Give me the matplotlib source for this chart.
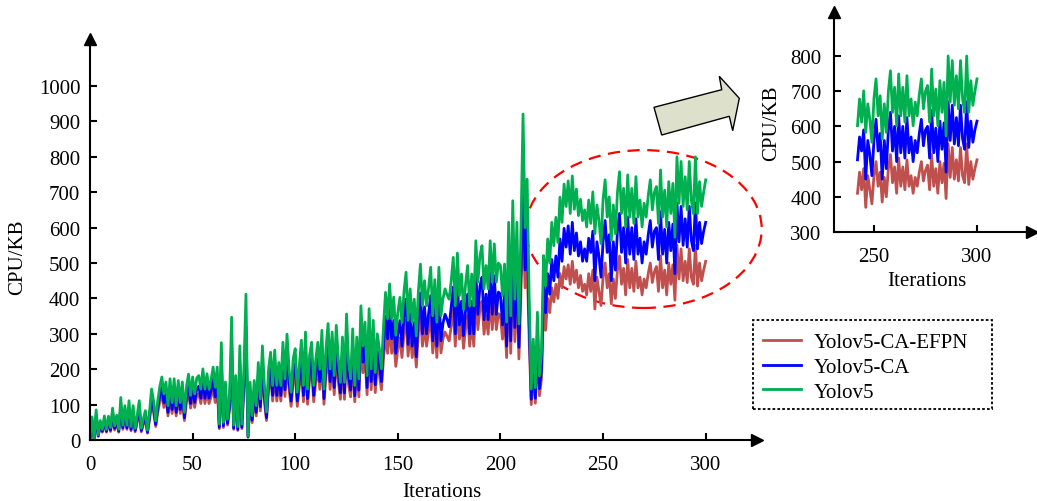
import matplotlib
matplotlib.use("Agg")
import matplotlib.pyplot as plt
from matplotlib.patches import Ellipse, Polygon, Rectangle

plt.rcParams['font.family'] = ['Liberation Serif', 'DejaVu Serif']

iterations = list(range(0, 301))

yolov5 = [
    5, 65, 3, 85, 15, 55, 30, 68, 30, 67,
    35, 90, 40, 70, 30, 120, 42, 97, 42, 111,
    38, 97, 33, 70, 111, 33, 60, 83, 28, 80,
    144, 110, 54, 110, 150, 178, 130, 164, 97, 173,
    106, 173, 97, 168, 106, 164, 78, 150, 186, 126,
    178, 130, 175, 182, 144, 201, 144, 187, 144, 170,
    206, 149, 206, 45, 275, 50, 164, 59, 120, 347,
    42, 182, 38, 266, 45, 200, 412, 11, 163, 69,
    168, 97, 219, 116, 266, 150, 79, 200, 248, 154,
    254, 154, 219, 154, 276, 173, 299, 200, 135, 230,
    258, 135, 210, 282, 154, 305, 144, 240, 276, 154,
    228, 276, 200, 310, 144, 258, 329, 201, 305, 182,
    324, 230, 163, 291, 163, 356, 220, 173, 314, 154,
    291, 173, 379, 266, 333, 182, 371, 201, 338, 191,
    300, 258, 201, 320, 417, 343, 441, 343, 404, 296,
    360, 403, 332, 420, 474, 338, 427, 333, 398, 294,
    420, 497, 379, 450, 379, 430, 488, 351, 453, 333,
    488, 351, 400, 427, 410, 398, 450, 516, 379, 528,
    408, 469, 370, 440, 493, 379, 469, 379, 563, 446,
    520, 549, 427, 493, 427, 563, 446, 554, 446, 500,
    493, 408, 497, 333, 615, 351, 676, 398, 615, 328,
    600, 921, 600, 737, 400, 144, 285, 148, 361, 181,
    250, 521, 436, 568, 500, 615, 549, 629, 558, 686,
    615, 723, 660, 732, 640, 746, 652, 709, 634, 680,
    620, 650, 602, 678, 612, 701, 583, 664, 620, 555,
    680, 735, 630, 687, 564, 664, 583, 700, 758, 640,
    711, 602, 749, 630, 711, 612, 744, 630, 678, 602,
    669, 630, 690, 735, 650, 700, 716, 612, 763, 630,
    706, 602, 730, 640, 725, 573, 800, 669, 787, 660,
    744, 650, 787, 678, 640, 800, 640, 730, 660, 700,
    735,
]

yolov5_ca = [
    3, 55, 2, 70, 12, 45, 25, 55, 25, 55,
    28, 75, 33, 58, 25, 95, 35, 80, 34, 90,
    30, 80, 27, 58, 90, 27, 50, 68, 22, 65,
    118, 90, 44, 90, 125, 148, 105, 136, 78, 142,
    86, 142, 78, 138, 86, 135, 63, 124, 155, 103,
    148, 106, 145, 152, 118, 168, 118, 156, 118, 140,
    172, 122, 172, 36, 220, 40, 135, 47, 98, 270,
    34, 150, 30, 215, 36, 165, 320, 9, 134, 56,
    138, 78, 182, 94, 222, 123, 63, 165, 207, 126,
    212, 126, 182, 126, 230, 142, 250, 165, 110, 190,
    215, 110, 174, 235, 126, 255, 117, 198, 230, 126,
    189, 230, 165, 259, 117, 214, 275, 165, 255, 148,
    270, 190, 133, 242, 133, 297, 181, 141, 262, 125,
    242, 141, 316, 220, 278, 148, 310, 165, 282, 156,
    250, 213, 165, 267, 350, 286, 370, 286, 338, 245,
    300, 337, 265, 350, 398, 270, 357, 265, 332, 235,
    350, 415, 300, 376, 300, 358, 408, 280, 378, 265,
    408, 280, 330, 355, 340, 320, 375, 432, 300, 442,
    325, 392, 295, 366, 412, 300, 392, 300, 472, 355,
    435, 460, 340, 412, 340, 472, 355, 464, 355, 418,
    412, 325, 415, 265, 500, 280, 540, 318, 500, 262,
    480, 740, 480, 600, 330, 115, 235, 118, 300, 145,
    200, 440, 360, 470, 412, 510, 450, 520, 460, 568,
    505, 598, 545, 605, 525, 615, 535, 585, 520, 560,
    505, 540, 505, 570, 530, 590, 450, 560, 520, 460,
    560, 620, 530, 580, 450, 560, 480, 590, 640, 530,
    600, 500, 630, 525, 600, 510, 625, 525, 570, 500,
    560, 525, 580, 620, 545, 590, 600, 510, 645, 525,
    595, 500, 615, 535, 610, 470, 670, 560, 660, 550,
    625, 545, 660, 565, 535, 670, 540, 615, 555, 590,
    615,
]

yolov5_ca_efpn = [
    2, 48, 1, 62, 10, 40, 22, 48, 22, 48,
    24, 66, 28, 50, 22, 85, 30, 70, 30, 80,
    26, 70, 23, 50, 80, 23, 44, 60, 19, 57,
    104, 78, 38, 78, 108, 128, 92, 118, 68, 124,
    75, 124, 68, 120, 75, 118, 55, 108, 134, 90,
    128, 92, 126, 131, 103, 145, 103, 135, 103, 122,
    148, 106, 148, 32, 195, 35, 118, 42, 86, 240,
    30, 130, 27, 190, 32, 143, 290, 8, 117, 49,
    120, 68, 157, 82, 190, 107, 55, 143, 178, 110,
    182, 110, 157, 110, 198, 123, 215, 143, 95, 165,
    185, 95, 150, 202, 108, 218, 101, 172, 198, 108,
    163, 198, 143, 222, 101, 185, 236, 143, 218, 128,
    232, 165, 115, 208, 115, 255, 156, 122, 225, 108,
    208, 122, 271, 190, 238, 128, 265, 142, 242, 134,
    215, 185, 142, 229, 298, 245, 315, 245, 289, 208,
    257, 288, 233, 300, 339, 237, 305, 233, 284, 206,
    300, 355, 265, 322, 265, 307, 349, 246, 324, 233,
    349, 246, 286, 305, 293, 280, 322, 369, 265, 377,
    285, 335, 259, 315, 352, 265, 335, 265, 402, 312,
    372, 392, 299, 352, 299, 402, 312, 396, 312, 357,
    352, 285, 355, 233, 440, 245, 483, 278, 440, 229,
    420, 620, 430, 500, 280, 100, 200, 104, 253, 125,
    175, 380, 310, 400, 360, 430, 390, 440, 400, 470,
    430, 490, 455, 495, 440, 505, 445, 480, 430, 465,
    420, 440, 410, 470, 420, 480, 370, 460, 420, 380,
    460, 500, 430, 470, 385, 455, 400, 480, 520, 440,
    485, 410, 510, 430, 485, 420, 505, 430, 460, 410,
    455, 430, 470, 500, 445, 475, 490, 420, 520, 430,
    480, 410, 500, 440, 495, 395, 550, 455, 540, 450,
    505, 445, 540, 460, 440, 550, 435, 500, 450, 480,
    505,
]

series_names = ["Yolov5-CA-EFPN", "Yolov5-CA", "Yolov5"]
series_colors = ["#c0504d", "#0000ff", "#00b050"]
main_xticks = [0, 50, 100, 150, 200, 250, 300]
main_yticks = [0, 100, 200, 300, 400, 500, 600, 700, 800, 900, 1000]
inset_xticks = [250, 300]
inset_yticks = [300, 400, 500, 600, 700, 800]
inset_start = 242

W, H = 1037, 502
fig = plt.figure(figsize=(W / 100, H / 100), dpi=100)


def px_rect(x0, y0, x1, y1):
    return [x0 / W, (H - y1) / H, (x1 - x0) / W, (y1 - y0) / H]


def style_axes(ax, fs=15):
    for s in ["top", "right"]:
        ax.spines[s].set_visible(False)
    for s in ["left", "bottom"]:
        ax.spines[s].set_linewidth(1.5)
    ax.tick_params(direction="in", length=5, width=1.5, labelsize=fs)
    ax.plot(1, 0, marker=">", color="k", ms=9, transform=ax.transAxes, clip_on=False)
    ax.plot(0, 1, marker="^", color="k", ms=9, transform=ax.transAxes, clip_on=False)


series = [yolov5_ca_efpn, yolov5_ca, yolov5]

# main axes
ax = fig.add_axes(px_rect(90, 40, 757, 441))
for vals, name, col in zip(series, series_names, series_colors):
    ax.plot(iterations, vals, color=col, lw=2.0, label=name)
ax.set_xlim(0, 325)
ax.set_ylim(0, 1133)
ax.set_xticks(main_xticks)
ax.set_yticks(main_yticks)
style_axes(ax)
ax.tick_params(axis="x", pad=11)
ax.tick_params(axis="y", pad=7)

ell = Ellipse((269.8, 596), 115, 446, fill=False, edgecolor="#ff0000", lw=1.6,
              linestyle=(0, (5.5, 3.4)), clip_on=False)
ax.add_patch(ell)

fig.text(18 / W, (H - 257) / H, "CPU/KB", rotation=90, ha="center", va="center", fontsize=15)
fig.text(442 / W, (H - 493) / H, "Iterations", ha="center", va="center", fontsize=15)

# inset axes
ax2 = fig.add_axes(px_rect(834, 13, 1032, 233))
idx = [i for i, x in enumerate(iterations) if x >= inset_start]
for vals, col in zip(series, series_colors):
    ax2.plot([iterations[i] for i in idx], [vals[i] for i in idx], color=col, lw=2.0)
ax2.set_xlim(230.6, 326.7)
ax2.set_ylim(300, 925)
ax2.set_xticks(inset_xticks)
ax2.set_yticks(inset_yticks)
style_axes(ax2)
ax2.tick_params(axis="x", pad=11)
ax2.tick_params(axis="y", pad=9)
fig.text(772 / W, (H - 123) / H, "CPU/KB", rotation=90, ha="center", va="center", fontsize=15)
fig.text(927 / W, (H - 281) / H, "Iterations", ha="center", va="center", fontsize=15)

# block arrow
arrow_px = [(654, 108.3), (721.7, 90.7), (719.3, 77.3), (739.3, 99.3),
            (732.7, 131.7), (729.3, 117.3), (661.7, 136)]
poly = Polygon([(x / W, (H - y) / H) for x, y in arrow_px], closed=True,
               facecolor="#dde0cb", edgecolor="k", lw=1.0, transform=fig.transFigure)
fig.patches.append(poly)

# legend box (dotted frame) and entries
box = Rectangle((753 / W, (H - 410) / H), (992 - 753) / W, (410 - 321) / H,
                fill=False, edgecolor="k", lw=1.3, linestyle=(0, (1.5, 1.2)),
                transform=fig.transFigure)
fig.patches.append(box)
handles, labels = ax.get_legend_handles_labels()
leg = fig.legend(handles, labels, loc="upper left", bbox_to_anchor=(753 / W, (H - 323) / H),
                 bbox_transform=fig.transFigure, borderaxespad=0, fontsize=15,
                 frameon=False, handlelength=1.8, handletextpad=0.6,
                 labelspacing=0.25, borderpad=0.5)

fig.savefig("out.png", dpi=100)
